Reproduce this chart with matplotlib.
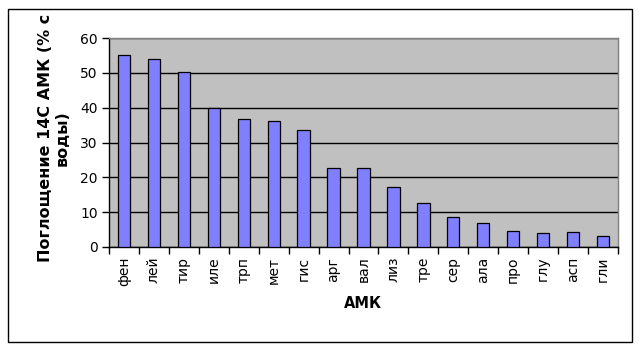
import numpy as np
import matplotlib
matplotlib.use("Agg")
import matplotlib.pyplot as plt
from matplotlib.patches import Rectangle

# amino acids and their uptake values
categories = ['фен', 'лей', 'тир', 'иле', 'трп', 'мет', 'гис', 'арг', 'вал',
              'лиз', 'тре', 'сер', 'ала', 'про', 'глу', 'асп', 'гли']
values = [55.0, 53.9, 50.2, 40.0, 36.7, 36.1, 33.5, 22.6, 22.6,
          17.1, 12.5, 8.5, 6.8, 4.6, 3.9, 4.2, 3.3]
yticks = [0, 10, 20, 30, 40, 50, 60]

plt.rcParams['font.family'] = ['DejaVu Sans']

fig = plt.figure(figsize=(6.4, 3.5), dpi=100)
fig.patch.set_facecolor('white')

# outer chart border
fig.patches.append(Rectangle((8 / 640, 8 / 350), 624 / 640, 333 / 350,
                             transform=fig.transFigure, fill=False,
                             edgecolor='black', linewidth=1.0))

ax = fig.add_axes([109 / 640, 103 / 350, 509 / 640, 209 / 350])
ax.set_facecolor('#C0C0C0')

x = np.arange(len(categories))
ax.bar(x, values, width=0.41, color='#8080FF', edgecolor='black', linewidth=0.9, zorder=3)

ax.set_ylim(0, 60)
ax.set_xlim(-0.5, len(categories) - 0.5)
ax.set_yticks(yticks)
ax.yaxis.grid(True, color='black', linewidth=1.0, zorder=1)
ax.set_axisbelow(True)

# ticks at category boundaries, labels in the middle
ax.set_xticks(np.arange(-0.5, len(categories), 1.0))
ax.set_xticklabels([])
ax.set_xticks(x, minor=True)
ax.set_xticklabels(categories, minor=True, rotation=90, fontsize=10)
ax.tick_params(axis='x', which='major', direction='out', length=5, width=1, color='black')
ax.tick_params(axis='x', which='minor', length=0, pad=7)
ax.tick_params(axis='y', direction='out', length=5, width=1, labelsize=10, pad=3)

for s in ['left', 'bottom']:
    ax.spines[s].set_color('black')
    ax.spines[s].set_linewidth(1.0)
for s in ['top', 'right']:
    ax.spines[s].set_color('#808080')
    ax.spines[s].set_linewidth(1.0)

fig.text(363 / 640, 47 / 350, 'АМК', ha='center', va='center',
         fontsize=10.5, fontweight='bold')
fig.text(54 / 640, 212 / 350, 'Поглощение 14С АМК (% с\nводы)', rotation=90,
         ha='center', va='center', multialignment='center',
         fontsize=11.5, fontweight='bold', linespacing=1.1)

fig.savefig('out.png', dpi=100)
